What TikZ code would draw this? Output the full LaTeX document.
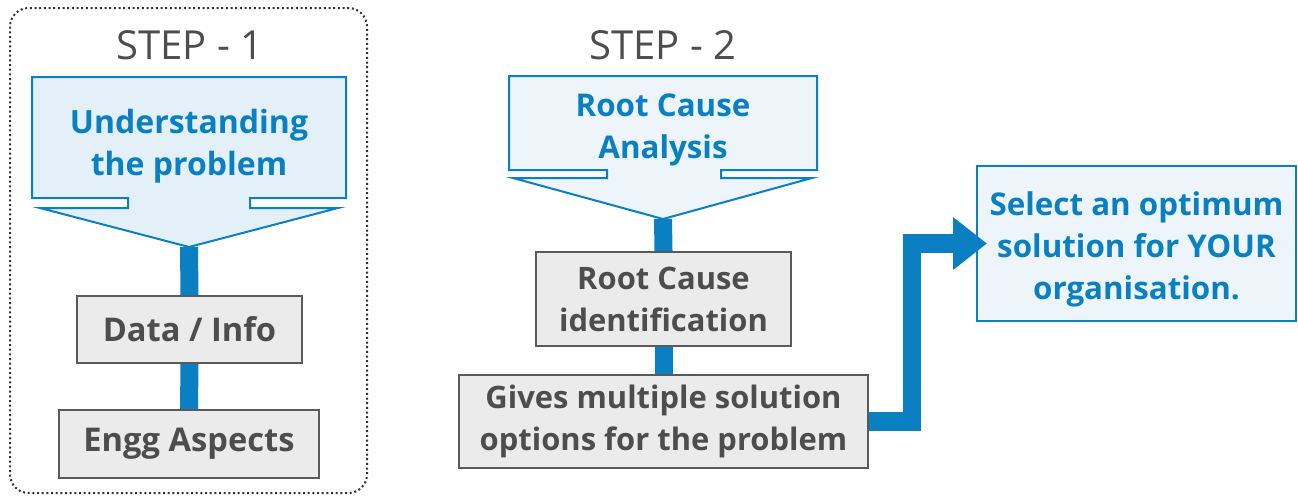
\documentclass[tikz,border=0pt]{standalone}
\usepackage{fontspec}
\setmainfont{Open Sans}
\usepackage{tikz}
\usetikzlibrary{arrows.meta}
\definecolor{myblue}{HTML}{0A80C2}
\definecolor{lblue}{HTML}{E4F0F8}
\definecolor{pblue}{HTML}{EDF5FA}
\definecolor{gfill}{HTML}{EBEBEB}
\definecolor{gline}{HTML}{5A5A5A}
\definecolor{gtext}{HTML}{4D4D4D}
\tikzset{gbox/.style={rectangle,draw=gline,fill=gfill,line width=1.5pt,text=gtext,font=\bfseries\fontsize{23.2}{31.5}\selectfont,align=center,inner sep=0pt},
  gbig/.style={gbox,font=\bfseries\fontsize{24.5}{31.5}\selectfont},
  btxt/.style={text=myblue,font=\bfseries\fontsize{23.5}{31.5}\selectfont,align=center,inner sep=0pt},
  bbox/.style={rectangle,draw=myblue,fill=pblue,line width=1.5pt},
  link/.style={draw=myblue,line width=13.5pt},
  steplbl/.style={text=gtext,font=\fontsize{30}{36}\selectfont,inner sep=0pt}}

\begin{document}
\begin{tikzpicture}[x=0.75pt,y=-0.75pt]
        \useasboundingbox (0,0) rectangle (1298,496);
        \draw[dotted,line width=1.5pt,rounded corners=14pt,black!80] (10,8) rectangle (367,493);

        \node[steplbl] (s1) at (190,45) {STEP - 1};
        \node[steplbl] (s2) at (663,45) {STEP - 2};

        % callout shapes
        \draw[myblue,fill=lblue,line width=1.5pt] (32,77) -- (346,77) -- (346,198) -- (250,198) -- (250,208) -- (338,208) -- (189,247) -- (40,208) -- (128,208) -- (128,198) -- (32,198) -- cycle;
        \draw[myblue,fill=pblue,line width=1.5pt] (509,76) -- (817,76) -- (817,170) -- (721,170) -- (721,178) -- (812,178) -- (663,219) -- (513,178) -- (607,178) -- (607,170) -- (509,170) -- cycle;
        \coordinate (t1) at (189,247);
        \coordinate (t2) at (663,219);
        \node[btxt,font=\bfseries\fontsize{24}{31.5}\selectfont] (und) at (189,146) {Understanding\\the problem};
        \node[btxt] (rca) at (663,130) {Root Cause\\Analysis};

        \node[gbig,minimum width=168.75pt,minimum height=50.25pt] (data) at (189.5,329.5) {Data / Info};
        \node[gbig,minimum width=195pt,minimum height=51pt] (engg) at (189,444) {Engg Aspects};
        \node[gbox,minimum width=191.25pt,minimum height=70.5pt] (rcid) at (663.5,299) {Root Cause\\identification};
        \node[gbox,minimum width=306.75pt,minimum height=69.75pt] (gives) at (663.5,421.5) {Gives multiple solution\\options for the problem};
        \node[bbox,minimum width=239.25pt,minimum height=116.25pt] (sel) at (1136.5,243.5) {};
        \node[btxt] (seltxt) at ([yshift=-4.5pt]sel.center) {Select an optimum\\solution for YOUR\\organisation.};

        \draw[link] (t1) -- (data.north);
        \draw[link] (data.south) -- (engg.north);
        \draw[link] (t2) -- (rcid.north);
        \draw[link] (rcid.south) -- (gives.north);
        \draw[link,line width=14pt,-{Triangle[length=25.5pt,width=38pt]}] (gives.east) -- ++(43,0) |- ([xshift=8.25pt]sel.west);
\end{tikzpicture}
\end{document}
